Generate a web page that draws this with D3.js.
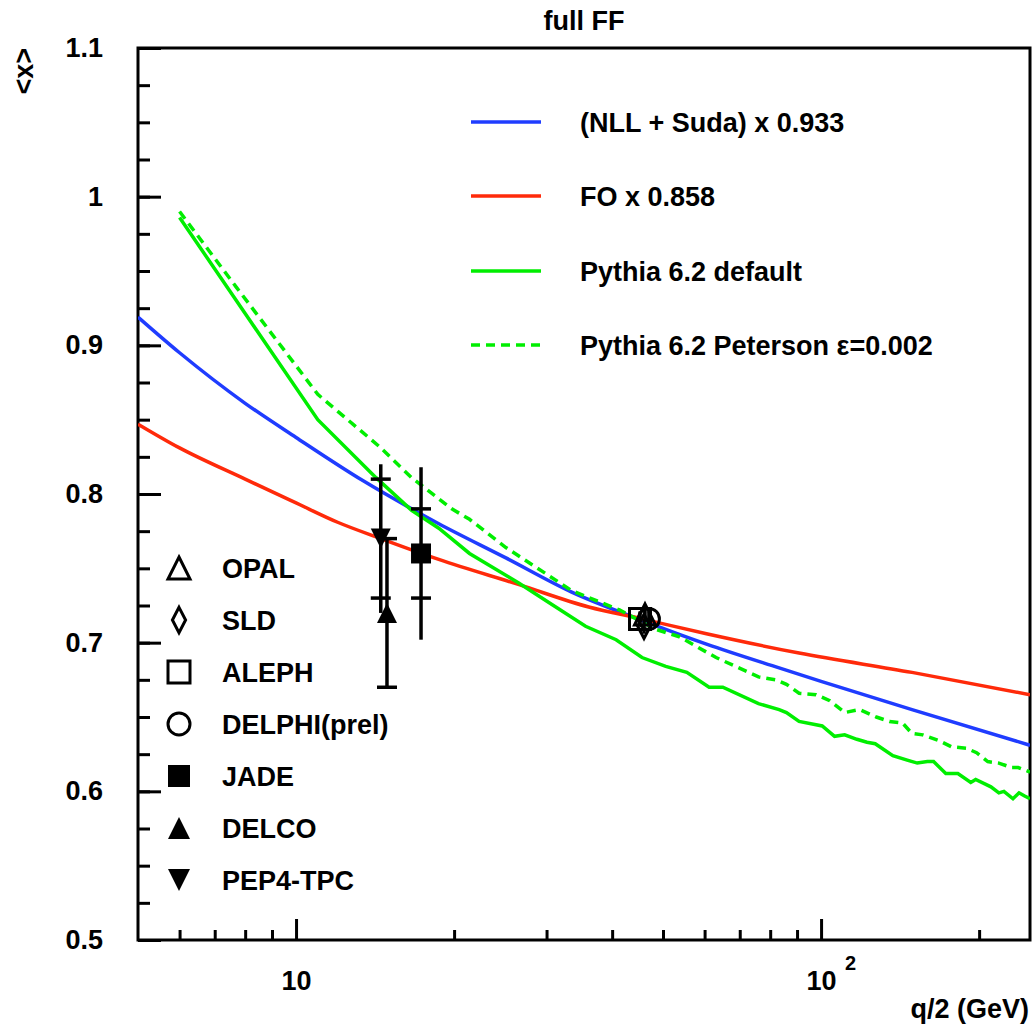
<!DOCTYPE html>
<html>
<head>
<meta charset="utf-8">
<style>
  body { margin: 0; background: #fff; }
  svg text { font-family: "Liberation Sans", Arial, Helvetica, sans-serif; font-weight: bold; }
</style>
</head>
<body>
<svg id="chart" width="1032" height="1028"></svg>
<script src="https://cdn.jsdelivr.net/npm/d3@7"></script>
<script>
// x axis: q/2 in GeV (log), y axis: <x>
var qDomain = [5, 250];
var xDomain = [0.5, 1.1];
var qMajor = [10, 100];
var qMinor = [6, 7, 8, 9, 20, 30, 40, 50, 60, 70, 80, 90, 200];
var yMajor = [0.5, 0.6, 0.7, 0.8, 0.9, 1.0, 1.1];
var yMinor = d3.range(0.5, 1.1001, 0.025);
var yLabels = ["0.5", "0.6", "0.7", "0.8", "0.9", "1", "1.1"];

// (NLL + Suda) x 0.933
var nllQ = [5, 6, 8, 10, 13.4, 16.6, 18.7, 25.1, 33.5, 45.6, 60.5, 83.2, 100, 149, 250];
var nllVal = [0.919, 0.895, 0.861, 0.838, 0.809, 0.790, 0.780, 0.757, 0.734, 0.715, 0.699, 0.683, 0.674, 0.655, 0.631];

// FO x 0.858
var foQ = [5, 6, 8, 10, 12, 14.5, 18.7, 26.6, 36.1, 45.6, 60.5, 90.8, 149, 250];
var foVal = [0.847, 0.831, 0.810, 0.794, 0.781, 0.770, 0.756, 0.739, 0.724, 0.716, 0.706, 0.693, 0.680, 0.665];

// Pythia 6.2 default
var pyQ = [6, 11, 14.2, 16.6, 18.7, 21.4, 26.6, 30.3, 35.6, 40.7, 45.6, 50.6, 55.5, 61.2, 65, 76, 83.2, 85.9, 90.8,
  100.5, 106.1, 110.9, 117, 122.3, 126.8, 137, 145.9, 152.5, 159.4, 163.8, 172.8, 182.2, 192.8, 197, 210.6, 218.1,
  223, 232, 238.3, 243.7, 250];
var pyVal = [0.986, 0.850, 0.811, 0.789, 0.777, 0.760, 0.740, 0.727, 0.711, 0.702, 0.690, 0.684, 0.680, 0.670, 0.670,
  0.659, 0.655, 0.653, 0.647, 0.644, 0.637, 0.638, 0.635, 0.633, 0.632, 0.624, 0.621, 0.619, 0.620, 0.620, 0.612,
  0.612, 0.606, 0.608, 0.603, 0.599, 0.600, 0.595, 0.599, 0.597, 0.595];

// Pythia 6.2 Peterson eps=0.002
var petQ = [6, 7.7, 11, 14.4, 16.6, 19.8, 21.4, 25.1, 33.5, 41.3, 48.4, 53.7, 63.1, 76, 82, 85.9, 90.8, 97.8, 103.9,
  110.9, 118.4, 127.4, 135, 142.9, 148.9, 156.2, 168, 177, 189, 197.8, 207.7, 218.1, 230.5, 237.4, 250];
var petVal = [0.990, 0.939, 0.867, 0.832, 0.811, 0.790, 0.783, 0.764, 0.735, 0.722, 0.709, 0.704, 0.690, 0.677, 0.675,
  0.672, 0.666, 0.665, 0.661, 0.653, 0.655, 0.650, 0.647, 0.646, 0.639, 0.638, 0.634, 0.630, 0.629, 0.626, 0.620,
  0.619, 0.616, 0.616, 0.613];

// measurements
var expNames = ["OPAL", "SLD", "ALEPH", "DELPHI(prel)", "JADE", "DELCO", "PEP4-TPC"];
var expMarker = ["triUp", "diamond", "square", "circle", "squareF", "triUpF", "triDownF"];
var expQ = [46.2, 46.0, 45.2, 47.0, 17.3, 14.9, 14.5];
var expVal = [0.719, 0.711, 0.716, 0.716, 0.760, 0.720, 0.770];
var expStat = [0.004, 0.004, 0.004, 0.004, 0.030, 0.050, 0.040];
var expTot = [0.005, 0.005, 0.005, 0.005, 0.058, 0.050, 0.050];

var curveNames = ["(NLL + Suda) x 0.933", "FO x 0.858", "Pythia 6.2 default", "Pythia 6.2 Peterson \u03b5=0.002"];
var curveColors = ["#1f3cff", "#ff2a0a", "#00ee00", "#00ee00"];

var margin = { left: 138, right: 1030, top: 48, bottom: 940 };
var svg = d3.select("#chart");

var x = d3.scaleLog().domain(qDomain).range([margin.left, margin.right]);
var y = d3.scaleLinear().domain(xDomain).range([margin.bottom, margin.top]);

svg.append("defs").append("clipPath").attr("id", "clip")
  .append("rect").attr("x", margin.left).attr("y", margin.top)
  .attr("width", margin.right - margin.left).attr("height", margin.bottom - margin.top);

// axes
var yMinorAxis = d3.axisLeft(y).tickValues(yMinor).tickSizeInner(-12).tickSizeOuter(0).tickFormat("");
var yMajorAxis = d3.axisLeft(y).tickValues(yMajor).tickSizeInner(-23).tickSizeOuter(0).tickPadding(35)
  .tickFormat(function (d, i) { return yLabels[i]; });
var gy1 = svg.append("g").attr("transform", "translate(" + margin.left + ",0)").call(yMinorAxis);
var gy2 = svg.append("g").attr("transform", "translate(" + margin.left + ",0)").call(yMajorAxis);

var xMinorAxis = d3.axisBottom(x).tickValues(qMinor).tickSizeInner(-10).tickSizeOuter(0).tickFormat("");
var xMajorAxis = d3.axisBottom(x).tickValues(qMajor).tickSizeInner(-21).tickSizeOuter(0).tickFormat("");
var gx1 = svg.append("g").attr("transform", "translate(0," + margin.bottom + ")").call(xMinorAxis);
var gx2 = svg.append("g").attr("transform", "translate(0," + margin.bottom + ")").call(xMajorAxis);

[gy1, gy2, gx1, gx2].forEach(function (g) {
  g.select(".domain").remove();
  g.selectAll(".tick line").attr("stroke", "#000").attr("stroke-width", 3);
});
gy2.selectAll(".tick text").attr("font-size", 27).attr("fill", "#000");

// x tick labels: 10 and 10^2
gx2.selectAll(".tick").each(function (d) {
  var t = d3.select(this).append("text").attr("fill", "#000").attr("font-size", 27)
    .attr("text-anchor", "middle").attr("y", 50);
  t.text("10");
  if (d === 100) {
    d3.select(this).append("text").attr("fill", "#000").attr("font-size", 20)
      .attr("x", 29).attr("y", 30).attr("text-anchor", "middle").text("2");
  }
});

// frame
svg.append("rect").attr("x", margin.left).attr("y", margin.top)
  .attr("width", margin.right - margin.left).attr("height", margin.bottom - margin.top)
  .attr("fill", "none").attr("stroke", "#000").attr("stroke-width", 3);

// titles
svg.append("text").attr("x", 584).attr("y", 30).attr("text-anchor", "middle").attr("font-size", 27).text("full FF");
svg.append("text").attr("x", 1029).attr("y", 1018).attr("text-anchor", "end").attr("font-size", 27).text("q/2 (GeV)");
svg.append("text").attr("transform", "translate(33,48) rotate(-90)").attr("text-anchor", "end")
  .attr("font-size", 27).text("<x>");

// curves
var line = d3.line().x(function (d) { return x(d[0]); }).y(function (d) { return y(d[1]); });
var smooth = d3.line().x(function (d) { return x(d[0]); }).y(function (d) { return y(d[1]); }).curve(d3.curveMonotoneX);
var curves = svg.append("g").attr("clip-path", "url(#clip)");
var series = [
  { data: d3.zip(nllQ, nllVal), gen: smooth, dash: null },
  { data: d3.zip(foQ, foVal), gen: smooth, dash: null },
  { data: d3.zip(pyQ, pyVal), gen: line, dash: null },
  { data: d3.zip(petQ, petVal), gen: line, dash: "9,6" }
];
series.forEach(function (s, i) {
  curves.append("path").attr("d", s.gen(s.data)).attr("fill", "none")
    .attr("stroke", curveColors[i]).attr("stroke-width", 3.5)
    .attr("stroke-dasharray", s.dash);
});

// markers
function markerPath(type, s) {
  var h = s / 2;
  switch (type.replace("F", "")) {
    case "triUp": return "M0," + (-h) + "L" + h + "," + h + "L" + (-h) + "," + h + "Z";
    case "triDown": return "M0," + h + "L" + h + "," + (-h) + "L" + (-h) + "," + (-h) + "Z";
    case "diamond": return "M0," + (-h * 1.15) + "L" + (h * 0.6) + ",0L0," + (h * 1.15) + "L" + (-h * 0.6) + ",0Z";
    case "square": return "M" + (-h) + "," + (-h) + "h" + s + "v" + s + "h" + (-s) + "Z";
    case "circle": return d3.symbol(d3.symbolCircle, Math.PI * h * h)();
  }
}
function drawMarker(g, type, s) {
  var filled = type.slice(-1) === "F";
  g.append("path").attr("d", markerPath(type, s))
    .attr("fill", filled ? "#000" : "none")
    .attr("stroke", "#000").attr("stroke-width", filled ? 0 : 3);
}

// error bars
var pts = svg.append("g");
expNames.forEach(function (name, i) {
  var cx = x(expQ[i]);
  pts.append("line").attr("x1", cx).attr("x2", cx)
    .attr("y1", y(expVal[i] + expTot[i])).attr("y2", y(expVal[i] - expTot[i]))
    .attr("stroke", "#000").attr("stroke-width", 3.5);
  if (i >= 4) {
    [expVal[i] + expStat[i], expVal[i] - expStat[i]].forEach(function (v) {
      pts.append("line").attr("x1", cx - 10).attr("x2", cx + 10)
        .attr("y1", y(v)).attr("y2", y(v)).attr("stroke", "#000").attr("stroke-width", 3.5);
    });
  }
});
expNames.forEach(function (name, i) {
  var g = pts.append("g").attr("transform", "translate(" + x(expQ[i]) + "," + y(expVal[i]) + ")");
  drawMarker(g, expMarker[i], i < 4 ? 21 : 20);
});

// legend: curves
var legTop = [122, 196, 271, 345];
curveNames.forEach(function (name, i) {
  svg.append("line").attr("x1", 471).attr("x2", 541).attr("y1", legTop[i]).attr("y2", legTop[i])
    .attr("stroke", curveColors[i]).attr("stroke-width", 3.5)
    .attr("stroke-dasharray", series[i].dash);
  svg.append("text").attr("x", 580).attr("y", legTop[i] + 10).attr("font-size", 27).text(name);
});

// legend: data
expNames.forEach(function (name, i) {
  var ly = 568 + i * 52;
  var g = svg.append("g").attr("transform", "translate(179," + ly + ")");
  drawMarker(g, expMarker[i], 22);
  svg.append("text").attr("x", 222).attr("y", ly + 10).attr("font-size", 27).text(name);
});
</script>
</body>
</html>
